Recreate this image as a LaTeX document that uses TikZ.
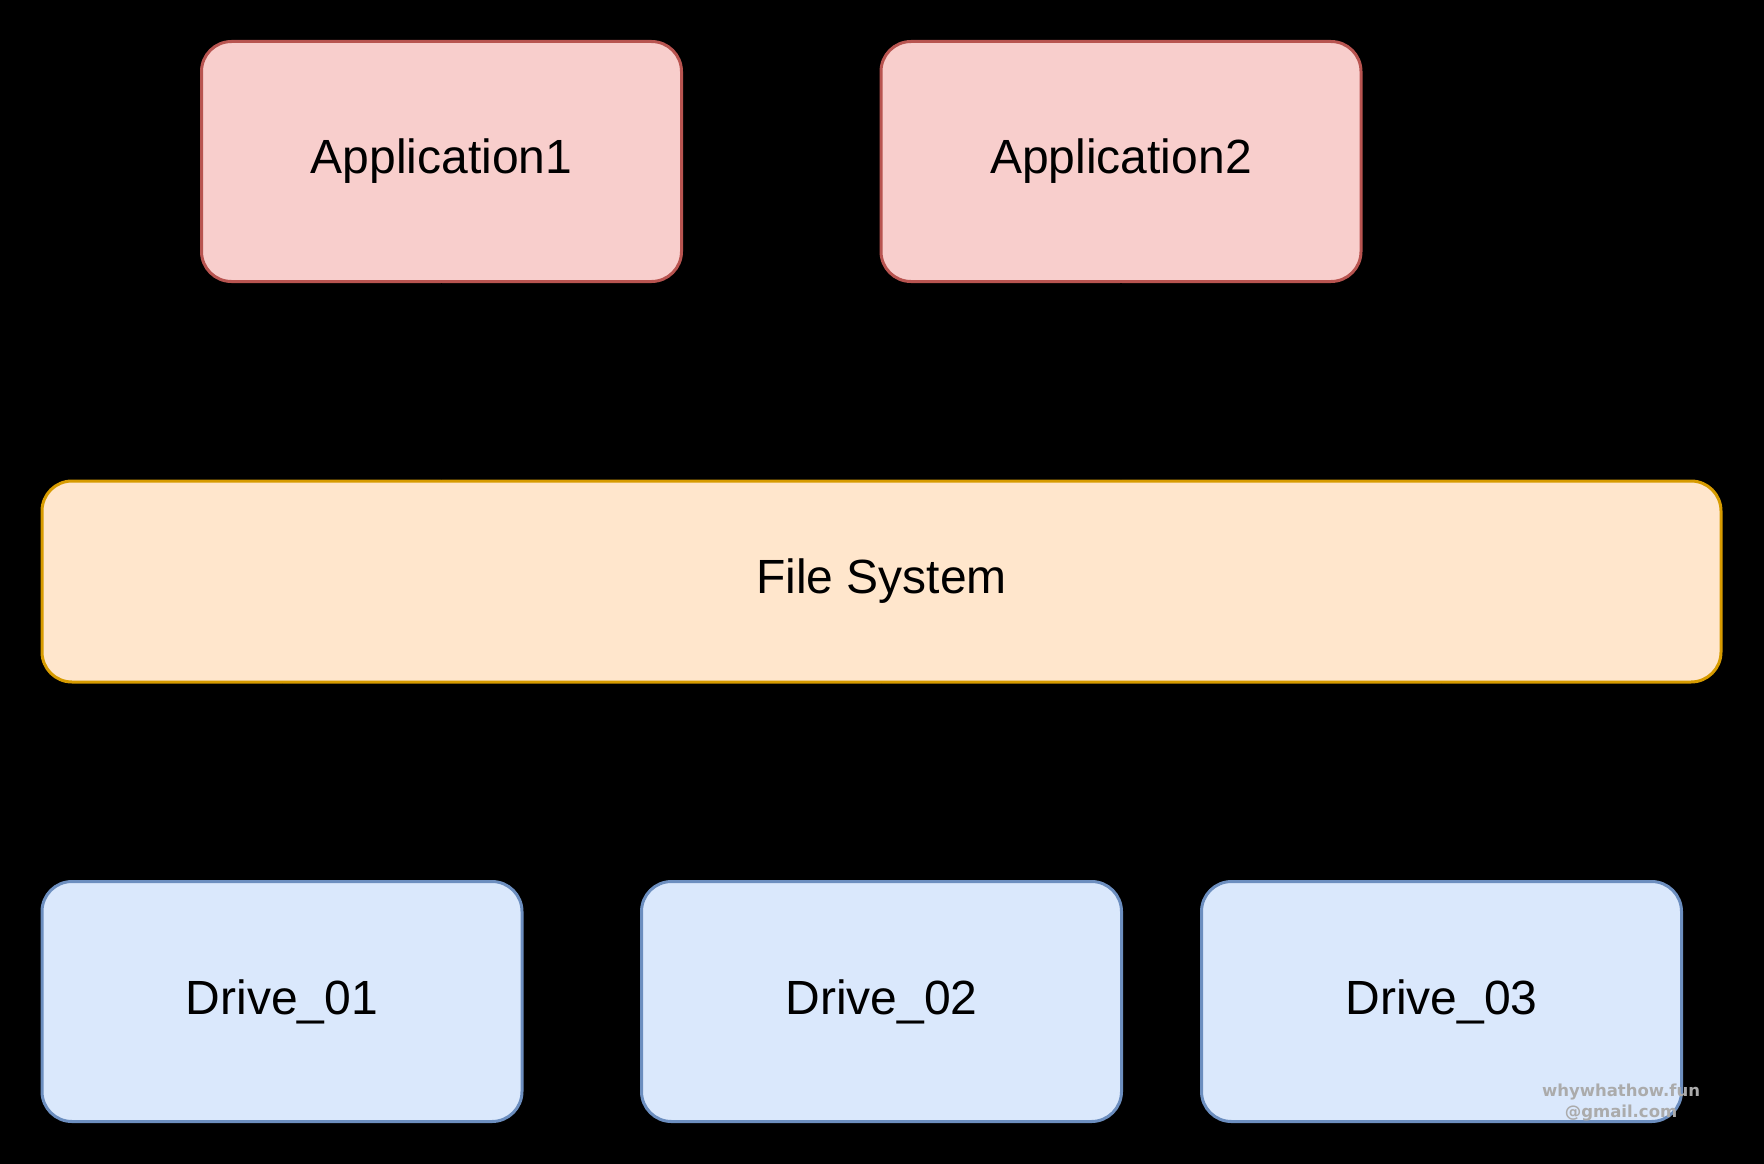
\documentclass[tikz,border=0pt]{standalone}
\usepackage{fontspec}
\setmainfont{Liberation Sans}
\newfontfamily\wmfont{DejaVu Sans}
\usetikzlibrary{arrows.meta}
\definecolor{redfill}{HTML}{F8CECC}
\definecolor{redline}{HTML}{B85450}
\definecolor{orfill}{HTML}{FFE6CC}
\definecolor{orline}{HTML}{D79B00}
\definecolor{blfill}{HTML}{DAE8FC}
\definecolor{blline}{HTML}{6C8EBF}
\definecolor{wmgray}{HTML}{ABABAB}
\tikzset{
  box/.style={rounded corners=30pt, line width=3pt, minimum width=480pt, minimum height=240pt, inner sep=0pt, font=\fontsize{48}{54}\selectfont, text=black},
  appbox/.style={box, draw=redline, fill=redfill},
  fsbox/.style={box, draw=orline, fill=orfill, minimum width=1679pt, minimum height=201pt},
  drivebox/.style={box, draw=blline, fill=blfill},
  conn/.style={draw=black, line width=1.5pt, -{Stealth[length=14pt,width=10pt]}},
  wm/.style={text=wmgray, font=\wmfont\bfseries\fontsize{16.5}{21}\selectfont, align=center, inner sep=0pt}
}
\begin{document}
\begin{tikzpicture}[x=1pt,y=-1pt]
\useasboundingbox (0,0) rectangle (1764,1164);
\fill[black] (0,0) rectangle (1764,1164);
\node[appbox] (app1) at (441.5,161.5) {Application1};
\node[appbox] (app2) at (1121,161.5) {Application2};
\node[fsbox] (fs) at (881.5,581.5) {File System};
\node[drivebox] (d1) at (282,1001.5) {Drive\_01};
\node[drivebox] (d2) at (881.5,1001.5) {Drive\_02};
\node[drivebox] (d3) at (1441.5,1001.5) {Drive\_03};
\draw[conn] (app1.south) -- (app1.south |- fs.north);
\draw[conn] (app2.south) -- (app2.south |- fs.north);
\draw[conn] (fs.south -| d1.north) -- (d1.north);
\draw[conn] (fs.south) -- (d2.north);
\draw[conn] (fs.south -| d3.north) -- (d3.north);
\node[wm] (wmark) at (1621,1102) {whywhathow.fun\\@gmail.com};
\end{tikzpicture}
\end{document}
